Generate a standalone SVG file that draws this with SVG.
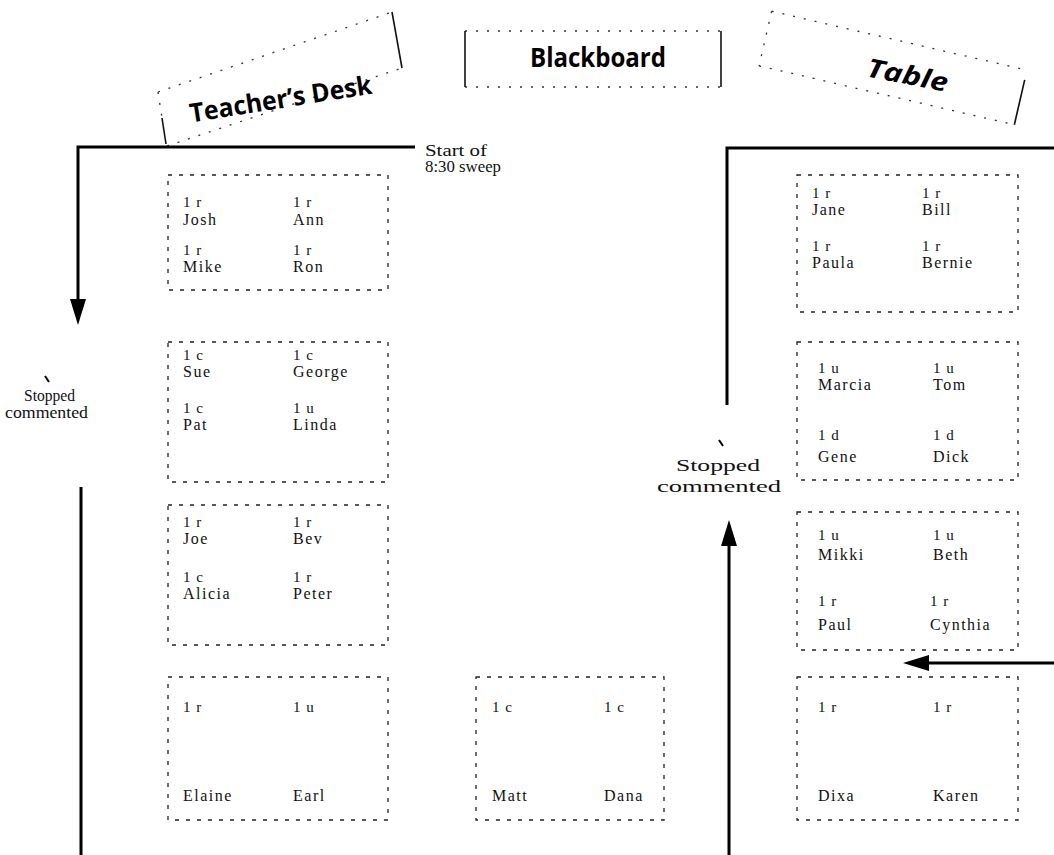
<svg xmlns="http://www.w3.org/2000/svg" width="1054" height="855" viewBox="0 0 1054 855">
<style>
.bg{fill:#fff}
.box{fill:none;stroke:#222;stroke-width:1.3;stroke-dasharray:4 7}
.side{fill:none;stroke:#111;stroke-width:1.6}
.dots{fill:none;stroke:#333;stroke-width:1.3;stroke-dasharray:2 9}
.title{font-family:"Open Sans","DejaVu Sans",sans-serif;font-weight:bold;fill:#000}
.nm{font-family:"Liberation Serif",serif;font-size:16px;letter-spacing:1.5px;fill:#111}
.lb{font-family:"Liberation Serif",serif;font-size:15px;letter-spacing:1px;fill:#111}
.note{font-family:"Liberation Serif",serif;font-size:16px;fill:#111}
.conn{fill:none;stroke:#000;stroke-width:3}
.tick{stroke:#000;stroke-width:2}
</style>
<defs>
<marker id="ah" markerUnits="userSpaceOnUse" markerWidth="26" markerHeight="16" refX="16" refY="8" orient="auto">
<path d="M0,0 L26,8 L0,16 z" fill="#000"/>
</marker>
</defs>
<rect class="bg" x="0" y="0" width="1054" height="855"/>

<g id="teachers-desk">
<line class="dots" x1="158" y1="92" x2="392" y2="12"/>
<line class="dots" x1="167" y1="146" x2="402" y2="68"/>
<line class="dots" x1="158" y1="92" x2="162" y2="118"/>
<line class="side" x1="162" y1="118" x2="166" y2="144"/>
<line class="side" x1="392" y1="12" x2="402" y2="68"/>
<text class="title" font-size="26" x="282" y="108" text-anchor="middle" transform="rotate(-9 282 108)" textLength="184" lengthAdjust="spacingAndGlyphs">Teacher’s Desk</text>
</g>

<g id="blackboard">
<line class="dots" x1="465" y1="31" x2="721" y2="31"/>
<line class="dots" x1="465" y1="87" x2="721" y2="87"/>
<line class="side" x1="465" y1="31" x2="465" y2="87"/>
<line class="side" x1="721" y1="31" x2="721" y2="87"/>
<text class="title" font-size="26" x="598" y="67" text-anchor="middle" textLength="136" lengthAdjust="spacingAndGlyphs">Blackboard</text>
</g>

<g id="table">
<g transform="rotate(13 893 68)">
<line class="dots" x1="762" y1="40" x2="1024" y2="40"/>
<line class="dots" x1="762" y1="96" x2="1024" y2="96"/>
<line class="dots" x1="762" y1="40" x2="762" y2="96"/>
<line class="side" x1="1024" y1="50" x2="1024" y2="96"/>
</g>
<text class="title" font-size="26" font-style="italic" x="906" y="84" text-anchor="middle" transform="rotate(11 906 84)" textLength="82" lengthAdjust="spacingAndGlyphs">Table</text>
</g>

<g id="connectors">
<path class="conn" d="M415,147 H78 V315" marker-end="url(#ah)"/>
<path class="conn" d="M81,487 V855"/>
<path class="conn" d="M1054,148 H727 V405"/>
<path class="conn" d="M729,855 V530" marker-end="url(#ah)"/>
<path class="conn" d="M1054,663 H913" marker-end="url(#ah)"/>
</g>

<g id="start-label">
<text class="note" x="425" y="156" textLength="62" lengthAdjust="spacingAndGlyphs">Start of</text>
<text class="note" x="425" y="172" textLength="76" lengthAdjust="spacingAndGlyphs">8:30 sweep</text>
</g>

<g id="stopped-left">
<line class="tick" x1="45" y1="376" x2="49" y2="382"/>
<text class="note" x="24" y="401" textLength="51" lengthAdjust="spacingAndGlyphs">Stopped</text>
<text class="note" x="5" y="418" textLength="83" lengthAdjust="spacingAndGlyphs">commented</text>
</g>

<g id="stopped-right">
<line class="tick" x1="719" y1="440" x2="723" y2="446"/>
<text class="note" x="676" y="471" textLength="84" lengthAdjust="spacingAndGlyphs">Stopped</text>
<text class="note" x="657" y="492" textLength="124" lengthAdjust="spacingAndGlyphs">commented</text>
</g>

<g id="desk-josh-ann-mike-ron">
<rect class="box" x="168" y="175" width="220" height="115"/>
<text class="lb" x="183" y="207">1 r</text><text class="nm" x="183" y="225">Josh</text>
<text class="lb" x="293" y="207">1 r</text><text class="nm" x="293" y="225">Ann</text>
<text class="lb" x="183" y="255">1 r</text><text class="nm" x="183" y="272">Mike</text>
<text class="lb" x="293" y="255">1 r</text><text class="nm" x="293" y="272">Ron</text>
</g>

<g id="desk-sue-george-pat-linda">
<rect class="box" x="168" y="342" width="220" height="140"/>
<text class="lb" x="183" y="360">1 c</text><text class="nm" x="183" y="377">Sue</text>
<text class="lb" x="293" y="360">1 c</text><text class="nm" x="293" y="377">George</text>
<text class="lb" x="183" y="413">1 c</text><text class="nm" x="183" y="430">Pat</text>
<text class="lb" x="293" y="413">1 u</text><text class="nm" x="293" y="430">Linda</text>
</g>

<g id="desk-joe-bev-alicia-peter">
<rect class="box" x="168" y="505" width="220" height="140"/>
<text class="lb" x="183" y="527">1 r</text><text class="nm" x="183" y="544">Joe</text>
<text class="lb" x="293" y="527">1 r</text><text class="nm" x="293" y="544">Bev</text>
<text class="lb" x="183" y="582">1 c</text><text class="nm" x="183" y="599">Alicia</text>
<text class="lb" x="293" y="582">1 r</text><text class="nm" x="293" y="599">Peter</text>
</g>

<g id="desk-elaine-earl">
<rect class="box" x="168" y="677" width="220" height="143"/>
<text class="lb" x="183" y="712">1 r</text><text class="nm" x="183" y="801">Elaine</text>
<text class="lb" x="293" y="712">1 u</text><text class="nm" x="293" y="801">Earl</text>
</g>

<g id="desk-matt-dana">
<rect class="box" x="476" y="677" width="188" height="143"/>
<text class="lb" x="492" y="712">1 c</text><text class="nm" x="492" y="801">Matt</text>
<text class="lb" x="604" y="712">1 c</text><text class="nm" x="604" y="801">Dana</text>
</g>

<g id="desk-jane-bill-paula-bernie">
<rect class="box" x="797" y="175" width="221" height="137"/>
<text class="lb" x="812" y="198">1 r</text><text class="nm" x="812" y="215">Jane</text>
<text class="lb" x="922" y="198">1 r</text><text class="nm" x="922" y="215">Bill</text>
<text class="lb" x="812" y="251">1 r</text><text class="nm" x="812" y="268">Paula</text>
<text class="lb" x="922" y="251">1 r</text><text class="nm" x="922" y="268">Bernie</text>
</g>

<g id="desk-marcia-tom-gene-dick">
<rect class="box" x="797" y="342" width="221" height="138"/>
<text class="lb" x="818" y="373">1 u</text><text class="nm" x="818" y="390">Marcia</text>
<text class="lb" x="933" y="373">1 u</text><text class="nm" x="933" y="390">Tom</text>
<text class="lb" x="818" y="440">1 d</text><text class="nm" x="818" y="462">Gene</text>
<text class="lb" x="933" y="440">1 d</text><text class="nm" x="933" y="462">Dick</text>
</g>

<g id="desk-mikki-beth-paul-cynthia">
<rect class="box" x="797" y="512" width="221" height="138"/>
<text class="lb" x="818" y="540">1 u</text><text class="nm" x="818" y="560">Mikki</text>
<text class="lb" x="933" y="540">1 u</text><text class="nm" x="933" y="560">Beth</text>
<text class="lb" x="818" y="606">1 r</text><text class="nm" x="818" y="630">Paul</text>
<text class="lb" x="930" y="606">1 r</text><text class="nm" x="930" y="630">Cynthia</text>
</g>

<g id="desk-dixa-karen">
<rect class="box" x="797" y="677" width="221" height="143"/>
<text class="lb" x="818" y="712">1 r</text><text class="nm" x="818" y="801">Dixa</text>
<text class="lb" x="933" y="712">1 r</text><text class="nm" x="933" y="801">Karen</text>
</g>
</svg>
